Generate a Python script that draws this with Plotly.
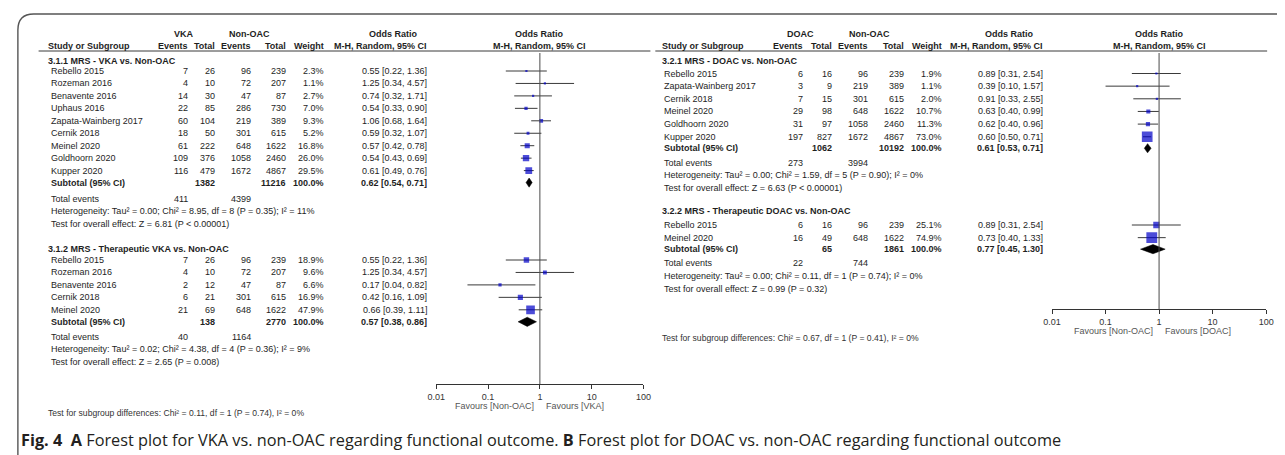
import plotly.graph_objects as go
import math

# ---------------- Panel A : VKA vs Non-OAC ----------------
a1_title = "3.1.1 MRS - VKA vs. Non-OAC"
a1_names = ["Rebello 2015", "Rozeman 2016", "Benavente 2016", "Uphaus 2016", "Zapata-Wainberg 2017",
            "Cernik 2018", "Meinel 2020", "Goldhoorn 2020", "Kupper 2020"]
a1_ev = [7, 4, 14, 22, 60, 18, 61, 109, 116]
a1_tot = [26, 10, 30, 85, 104, 50, 222, 376, 479]
a1_cev = [96, 72, 47, 286, 219, 301, 648, 1058, 1672]
a1_ctot = [239, 207, 87, 730, 389, 615, 1622, 2460, 4867]
a1_w = [2.3, 1.1, 2.7, 7.0, 9.3, 5.2, 16.8, 26.0, 29.5]
a1_or = [0.55, 1.25, 0.74, 0.54, 1.06, 0.59, 0.57, 0.54, 0.61]
a1_lo = [0.22, 0.34, 0.32, 0.33, 0.68, 0.32, 0.42, 0.43, 0.49]
a1_hi = [1.36, 4.57, 1.71, 0.90, 1.64, 1.07, 0.78, 0.69, 0.76]
a1_sub_tot = [1382, 11216]
a1_sub_or = [0.62, 0.54, 0.71]
a1_events = [411, 4399]
a1_het = "Heterogeneity: Tau² = 0.00; Chi² = 8.95, df = 8 (P = 0.35); I² = 11%"
a1_test = "Test for overall effect: Z = 6.81 (P < 0.00001)"

a2_title = "3.1.2 MRS - Therapeutic VKA vs. Non-OAC"
a2_names = ["Rebello 2015", "Rozeman 2016", "Benavente 2016", "Cernik 2018", "Meinel 2020"]
a2_ev = [7, 4, 2, 6, 21]
a2_tot = [26, 10, 12, 21, 69]
a2_cev = [96, 72, 47, 301, 648]
a2_ctot = [239, 207, 87, 615, 1622]
a2_w = [18.9, 9.6, 6.6, 16.9, 47.9]
a2_or = [0.55, 1.25, 0.17, 0.42, 0.66]
a2_lo = [0.22, 0.34, 0.04, 0.16, 0.39]
a2_hi = [1.36, 4.57, 0.82, 1.09, 1.11]
a2_sub_tot = [138, 2770]
a2_sub_or = [0.57, 0.38, 0.86]
a2_events = [40, 1164]
a2_het = "Heterogeneity: Tau² = 0.02; Chi² = 4.38, df = 4 (P = 0.36); I² = 9%"
a2_test = "Test for overall effect: Z = 2.65 (P = 0.008)"
a_subgroup = "Test for subgroup differences: Chi² = 0.11, df = 1 (P = 0.74), I² = 0%"

# ---------------- Panel B : DOAC vs Non-OAC ----------------
b1_title = "3.2.1 MRS - DOAC vs. Non-OAC"
b1_names = ["Rebello 2015", "Zapata-Wainberg 2017", "Cernik 2018", "Meinel 2020", "Goldhoorn 2020", "Kupper 2020"]
b1_ev = [6, 3, 7, 29, 31, 197]
b1_tot = [16, 9, 15, 98, 97, 827]
b1_cev = [96, 219, 301, 648, 1058, 1672]
b1_ctot = [239, 389, 615, 1622, 2460, 4867]
b1_w = [1.9, 1.1, 2.0, 10.7, 11.3, 73.0]
b1_or = [0.89, 0.39, 0.91, 0.63, 0.62, 0.60]
b1_lo = [0.31, 0.10, 0.33, 0.40, 0.40, 0.50]
b1_hi = [2.54, 1.57, 2.55, 0.99, 0.96, 0.71]
b1_sub_tot = [1062, 10192]
b1_sub_or = [0.61, 0.53, 0.71]
b1_events = [273, 3994]
b1_het = "Heterogeneity: Tau² = 0.00; Chi² = 1.59, df = 5 (P = 0.90); I² = 0%"
b1_test = "Test for overall effect: Z = 6.63 (P < 0.00001)"

b2_title = "3.2.2 MRS - Therapeutic DOAC vs. Non-OAC"
b2_names = ["Rebello 2015", "Meinel 2020"]
b2_ev = [6, 16]
b2_tot = [16, 49]
b2_cev = [96, 648]
b2_ctot = [239, 1622]
b2_w = [25.1, 74.9]
b2_or = [0.89, 0.73]
b2_lo = [0.31, 0.40]
b2_hi = [2.54, 1.33]
b2_sub_tot = [65, 1861]
b2_sub_or = [0.77, 0.45, 1.30]
b2_events = [22, 744]
b2_het = "Heterogeneity: Tau² = 0.00; Chi² = 0.11, df = 1 (P = 0.74); I² = 0%"
b2_test = "Test for overall effect: Z = 0.99 (P = 0.32)"
b_subgroup = "Test for subgroup differences: Chi² = 0.67, df = 1 (P = 0.41), I² = 0%"

tick_vals = [0.01, 0.1, 1, 10, 100]
tick_text = ["0.01", "0.1", "1", "10", "100"]

caption = ("<b>Fig. 4</b>&nbsp; <b>A</b> Forest plot for VKA vs. non-OAC regarding functional outcome. "
           "<b>B</b> Forest plot for DOAC vs. non-OAC regarding functional outcome")

# ---------------- layout helpers ----------------
W, H = 1285, 455
FONT = "Liberation Sans, Arial, sans-serif"
TXT = "#1e1e1e"
FS = 9
BLUE = "#0000C8"
LINE = "#3a3a3a"

fig = go.Figure()
ann = []
shapes = []


def txt(x, y, s, anchor="left", bold=False, size=FS, color=TXT, xref="x"):
    if bold:
        s = "<b>" + s + "</b>"
    ann.append(dict(x=x, y=y, xref=xref, yref="y", text=s, showarrow=False,
                    xanchor=anchor, yanchor="middle", borderpad=0,
                    font=dict(family=FONT, size=size, color=color)))


panels = [
    dict(grp="VKA", fav="VKA", title_x=38, name_x=42, cols=[182, 210, 246, 282, 320, 425],
         hdr=(177, 244, 390),
         line=(30, 650), xa="x2", xaxis="xaxis2", dom=(433, 643), axis_y=384, top=53,
         sub_y=413, subgroup=a_subgroup,
         secs=[
             dict(title=a1_title, names=a1_names, ev=a1_ev, tot=a1_tot, cev=a1_cev, ctot=a1_ctot, w=a1_w,
                  orr=a1_or, lo=a1_lo, hi=a1_hi, stot=a1_sub_tot, sor=a1_sub_or, evs=a1_events,
                  het=a1_het, test=a1_test, yt=61, y0=71, dy=12.45, sg=12, eg=16, lg=12.6),
             dict(title=a2_title, names=a2_names, ev=a2_ev, tot=a2_tot, cev=a2_cev, ctot=a2_ctot, w=a2_w,
                  orr=a2_or, lo=a2_lo, hi=a2_hi, stot=a2_sub_tot, sor=a2_sub_or, evs=a2_events,
                  het=a2_het, test=a2_test, yt=249, y0=260, dy=12.45, sg=12, eg=15, lg=12.5),
         ]),
    dict(grp="DOAC", fav="DOAC", title_x=661, name_x=663, cols=[806, 835, 872, 908, 947, 1049],
         hdr=(802, 872, 1014),
         line=(655, 1275), xa="x3", xaxis="xaxis3", dom=(1057, 1274), axis_y=309, top=53,
         sub_y=338, subgroup=b_subgroup,
         secs=[
             dict(title=b1_title, names=b1_names, ev=b1_ev, tot=b1_tot, cev=b1_cev, ctot=b1_ctot, w=b1_w,
                  orr=b1_or, lo=b1_lo, hi=b1_hi, stot=b1_sub_tot, sor=b1_sub_or, evs=b1_events,
                  het=b1_het, test=b1_test, yt=61, y0=73.5, dy=12.65, sg=11.5, eg=14.3, lg=12.6),
             dict(title=b2_title, names=b2_names, ev=b2_ev, tot=b2_tot, cev=b2_cev, ctot=b2_ctot, w=b2_w,
                  orr=b2_or, lo=b2_lo, hi=b2_hi, stot=b2_sub_tot, sor=b2_sub_or, evs=b2_events,
                  het=b2_het, test=b2_test, yt=211, y0=225, dy=12.65, sg=11.5, eg=13.7, lg=13.1),
         ]),
]

for p in panels:
    c_ev, c_tot, c_cev, c_ctot, c_w, c_ci = p["cols"]
    fx = (p["dom"][0] + p["dom"][1]) / 2
    # header rows
    txt(p["hdr"][0], 34, p["grp"], "center", True)
    txt(p["hdr"][1], 34, "Non-OAC", "center", True)
    txt(p["hdr"][2], 34, "Odds Ratio", "center", True)
    txt(fx, 34, "Odds Ratio", "center", True)
    txt(p["title_x"], 46, "Study or Subgroup", "left", True)
    txt(c_ev, 46, "Events", "right", True)
    txt(c_tot, 46, "Total", "right", True)
    txt(c_cev, 46, "Events", "right", True)
    txt(c_ctot, 46, "Total", "right", True)
    txt(c_w, 46, "Weight", "right", True)
    txt(c_ci, 46, "M-H, Random, 95% CI", "right", True)
    txt(fx, 46, "M-H, Random, 95% CI", "center", True)
    shapes.append(dict(type="line", xref="x", yref="y", x0=p["line"][0], x1=p["line"][1],
                       y0=51, y1=51, line=dict(color=LINE, width=1)))

    for s in p["secs"]:
        txt(p["title_x"], s["yt"], s["title"], "left", True)
        ys = [s["y0"] + i * s["dy"] for i in range(len(s["names"]))]
        for i, nm in enumerate(s["names"]):
            y = ys[i]
            txt(p["name_x"], y, nm)
            txt(c_ev, y, str(s["ev"][i]), "right")
            txt(c_tot, y, str(s["tot"][i]), "right")
            txt(c_cev, y, str(s["cev"][i]), "right")
            txt(c_ctot, y, str(s["ctot"][i]), "right")
            txt(c_w, y, "%.1f%%" % s["w"][i], "right")
            txt(c_ci, y, "%.2f [%.2f, %.2f]" % (s["orr"][i], s["lo"][i], s["hi"][i]), "right")
        ysub = ys[-1] + s["sg"]
        txt(p["name_x"], ysub, "Subtotal (95% CI)", "left", True)
        txt(c_tot, ysub, str(s["stot"][0]), "right", True)
        txt(c_ctot, ysub, str(s["stot"][1]), "right", True)
        txt(c_w, ysub, "100.0%", "right", True)
        txt(c_ci, ysub, "%.2f [%.2f, %.2f]" % tuple(s["sor"]), "right", True)
        yev = ysub + s["eg"]
        txt(p["name_x"], yev, "Total events")
        txt(c_ev, yev, str(s["evs"][0]), "right")
        txt(c_cev, yev, str(s["evs"][1]), "right")
        txt(p["name_x"], yev + s["lg"], s["het"])
        txt(p["name_x"], yev + 2 * s["lg"], s["test"])

        # forest: CI lines
        cx, cy = [], []
        for i in range(len(ys)):
            cx += [s["lo"][i], s["hi"][i], None]
            cy += [ys[i], ys[i], None]
        fig.add_trace(go.Scatter(x=cx, y=cy, xaxis=p["xa"], yaxis="y", mode="lines",
                                 line=dict(color=LINE, width=1), hoverinfo="skip", showlegend=False))
        # squares (area proportional to weight)
        fig.add_trace(go.Scatter(x=s["orr"], y=ys, xaxis=p["xa"], yaxis="y", mode="markers",
                                 marker=dict(symbol="square", color=BLUE,
                                             size=[max(2.2, 1.25 * math.sqrt(w)) for w in s["w"]],
                                             line=dict(width=0)),
                                 showlegend=False, hoverinfo="skip"))
        # pooled diamond
        o, lo, hi = s["sor"]
        hh = 4.6
        fig.add_trace(go.Scatter(x=[lo, o, hi, o, lo], y=[ysub, ysub - hh, ysub, ysub + hh, ysub],
                                 xaxis=p["xa"], yaxis="y", mode="lines", fill="toself",
                                 fillcolor="black", line=dict(color="black", width=0.5),
                                 showlegend=False, hoverinfo="skip"))

    txt(p["title_x"], p["sub_y"], p["subgroup"], "left", False, 8.6, "#333333")

    # null line
    shapes.append(dict(type="line", xref=p["xa"], yref="y", x0=1, x1=1, y0=p["top"], y1=p["axis_y"],
                       line=dict(color="#4a4a4a", width=1)))
    # favours labels
    ann.append(dict(x=0, y=p["axis_y"] + 22, xref=p["xa"], yref="y", text="Favours [Non-OAC]",
                    showarrow=False, xanchor="right", yanchor="middle", xshift=-4,
                    font=dict(family=FONT, size=9, color="#555555")))
    ann.append(dict(x=0, y=p["axis_y"] + 22, xref=p["xa"], yref="y", text="Favours [%s]" % p["fav"],
                    showarrow=False, xanchor="left", yanchor="middle", xshift=4,
                    font=dict(family=FONT, size=9, color="#555555")))

# caption border with rounded corner
shapes.append(dict(type="path", xref="x", yref="y",
                   path="M 9 460 L 9 30 Q 9 14 25 14 L 1290 14",
                   line=dict(color="#555555", width=1.4)))

ann.append(dict(x=10, y=440, xref="x", yref="y", text=caption, showarrow=False,
                xanchor="left", yanchor="middle",
                font=dict(family="Open Sans, Noto Sans, sans-serif", size=16.3, color="#231F20")))

axis_common = dict(type="log", range=[-2, 2], anchor="free", showgrid=False, zeroline=False,
                   showline=True, linecolor="#333333", linewidth=1, ticks="outside", ticklen=4,
                   tickcolor="#333333", tickvals=tick_vals, ticktext=tick_text,
                   tickfont=dict(family=FONT, size=9, color="#333333"))

layout_axes = {}
for p in panels:
    d = dict(axis_common)
    d["domain"] = [p["dom"][0] / W, p["dom"][1] / W]
    d["position"] = 1 - p["axis_y"] / H
    layout_axes[p["xaxis"]] = d

fig.update_layout(
    width=W, height=H, margin=dict(l=0, r=0, t=0, b=0),
    paper_bgcolor="white", plot_bgcolor="white",
    xaxis=dict(range=[0, W], domain=[0, 1], visible=False),
    yaxis=dict(range=[H, 0], domain=[0, 1], visible=False),
    annotations=ann, shapes=shapes, showlegend=False,
    **layout_axes,
)

fig.write_html("out.html")
